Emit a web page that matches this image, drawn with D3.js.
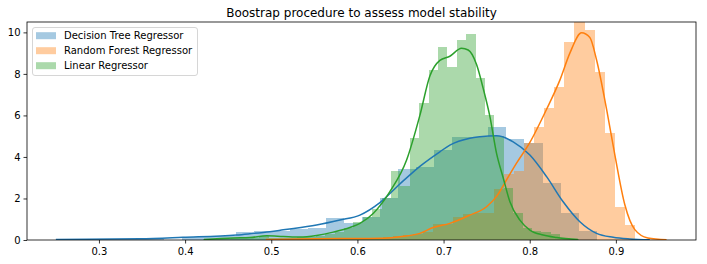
<!DOCTYPE html>
<html>
<head>
<meta charset="utf-8">
<script src="https://cdn.jsdelivr.net/npm/d3@7"></script>
<style>
body { margin: 0; background: #fff; }
text { font-family: "DejaVu Sans", sans-serif; fill: #000; }
</style>
</head>
<body>
<svg id="chart" width="707" height="264"></svg>
<script>
var title = "Boostrap procedure to assess model stability";
var seriesNames = ["Decision Tree Regressor", "Random Forest Regressor", "Linear Regressor"];
var seriesColors = ["#1f77b4", "#ff7f0e", "#2ca02c"];

// histogram bins: first edge, bin width, densities
var binStarts = [0.25, 0.5002, 0.4208];
var binWidths = [0.02092, 0.011724, 0.01091];
var treeHist = [0.05, 0.05, 0.05, 0.05, 0.05, 0.05, 0.02, 0.15, 0.2, 0.2,
    0.37, 0.42, 0.45, 0.54, 0.56, 1.04, 0.8, 1.1, 2.0, 3.42,
    3.53, 4.33, 4.94, 4.94, 5.45, 4.86, 4.65, 2.73, 1.32, 0.43];
var forestHist = [0.03, 0.03, 0.05, 0.05, 0.05, 0.08, 0.08, 0.1, 0.1, 0.12,
    0.1, 0.15, 0.2, 0.25, 0.3, 0.4, 0.77, 0.77, 1.12, 1.24,
    1.3, 1.28, 2.45, 3.2, 3.3, 4.65, 5.45, 6.34, 7.38, 9.55,
    10.8, 10.1, 8.1, 5.14, 1.6, 0.72];
var linearHist = [0.05, 0.05, 0.05, 0.1, 0.1, 0.1, 0.19, 0.1, 0.1, 0.1,
    0.15, 0.15, 0.2, 0.3, 0.4, 0.6, 0.88, 1.12, 1.48, 2.0,
    3.32, 2.61, 4.92, 6.6, 8.17, 9.29, 8.33, 9.62, 9.9, 7.8,
    6.01, 5.0, 2.5, 1.3, 0.6, 0.45, 0.4, 0.3, 0.1, 0.05];

// kde curves
var treeKdeX = [0.25, 0.3476, 0.3975, 0.4598, 0.4752, 0.4984, 0.5139, 0.5526, 0.5797, 0.6029,
    0.6261, 0.6493, 0.6725, 0.6957, 0.7073, 0.7305, 0.7422, 0.7615, 0.7808, 0.8002,
    0.8196, 0.8388, 0.8582, 0.8776, 0.8969, 0.9162, 0.9394];
var treeKdeY = [0.03, 0.06, 0.13, 0.24, 0.3, 0.4, 0.49, 0.72, 0.96, 1.2,
    1.8, 2.7, 3.55, 4.25, 4.57, 4.9, 4.97, 5.02, 4.73, 4.09,
    3.05, 1.84, 0.88, 0.32, 0.13, 0.05, 0.01];
var forestKdeX = [0.4938, 0.5333, 0.5797, 0.6261, 0.6493, 0.6725, 0.6879, 0.7073, 0.7305, 0.7499,
    0.7615, 0.7731, 0.7847, 0.8002, 0.8196, 0.835, 0.8466, 0.8602, 0.8698, 0.8776,
    0.8892, 0.8988, 0.9104, 0.922, 0.9371, 0.9588];
var forestKdeY = [0.03, 0.05, 0.07, 0.08, 0.16, 0.32, 0.6, 0.8, 1.2, 1.6,
    2.1, 2.9, 3.7, 4.7, 6.3, 7.7, 9.0, 9.98, 9.75, 8.67,
    6.3, 4.1, 1.7, 0.5, 0.1, 0.01];
var linearKdeX = [0.4219, 0.4555, 0.4752, 0.4946, 0.5139, 0.5333, 0.5526, 0.5719, 0.5913, 0.6029,
    0.6183, 0.6377, 0.6571, 0.6725, 0.6841, 0.6957, 0.7073, 0.7209, 0.7286, 0.7383,
    0.746, 0.7538, 0.7615, 0.7692, 0.777, 0.7886, 0.8002, 0.8156, 0.8312, 0.8559];
var linearKdeY = [0.02, 0.1, 0.12, 0.2, 0.17, 0.14, 0.22, 0.38, 0.6, 0.8,
    1.28, 2.33, 3.85, 6.0, 7.9, 8.65, 8.85, 9.23, 9.15, 8.45,
    7.3, 5.94, 4.17, 3.0, 1.84, 0.96, 0.48, 0.24, 0.12, 0.02];

var xTicks = [0.3, 0.4, 0.5, 0.6, 0.7, 0.8, 0.9];
var yTicks = [0, 2, 4, 6, 8, 10];

var hists = [treeHist, forestHist, linearHist];
var kdes = [[treeKdeX, treeKdeY], [forestKdeX, forestKdeY], [linearKdeX, linearKdeY]];

var svg = d3.select("#chart"),
    margin = {top: 22, right: 11, bottom: 24, left: 27},
    width = +svg.attr("width") - margin.left - margin.right,
    height = +svg.attr("height") - margin.top - margin.bottom;

var x = d3.scaleLinear().domain([0.2165, 0.993]).range([0, width]),
    y = d3.scaleLinear().domain([0, 10.5]).range([height, 0]);

var g = svg.append("g")
    .attr("transform", "translate(" + margin.left + "," + margin.top + ")");

g.append("clipPath").attr("id", "plotclip")
    .append("rect").attr("width", width).attr("height", height);

var plot = g.append("g").attr("clip-path", "url(#plotclip)");

var line = d3.line()
    .x(function(d) { return x(d[0]); })
    .y(function(d) { return y(d[1]); })
    .curve(d3.curveMonotoneX);

// bars first, lines on top (like matplotlib zorder)
hists.forEach(function(h, s) {
    var bins = h.map(function(v, i) {
        return {x0: binStarts[s] + i * binWidths[s], x1: binStarts[s] + (i + 1) * binWidths[s], v: v};
    });
    plot.append("g").selectAll("rect")
        .data(bins)
        .enter().append("rect")
        .attr("x", function(d) { return x(d.x0); })
        .attr("width", function(d) { return x(d.x1) - x(d.x0); })
        .attr("y", function(d) { return y(d.v); })
        .attr("height", function(d) { return height - y(d.v); })
        .attr("fill", seriesColors[s])
        .attr("fill-opacity", 0.4)
        .attr("shape-rendering", "crispEdges");
});

kdes.forEach(function(k, s) {
    var pts = k[0].map(function(v, i) { return [v, k[1][i]]; });
    plot.append("path")
        .datum(pts)
        .attr("fill", "none")
        .attr("stroke", seriesColors[s])
        .attr("stroke-width", 1.5)
        .attr("d", line);
});

// axes
var xAxis = g.append("g")
    .attr("transform", "translate(0," + height + ")")
    .call(d3.axisBottom(x).tickValues(xTicks).tickFormat(d3.format(".1f")).tickSize(3.5).tickPadding(4.5));
var yAxis = g.append("g")
    .call(d3.axisLeft(y).tickValues(yTicks).tickFormat(d3.format("d")).tickSize(3.5).tickPadding(3));

[xAxis, yAxis].forEach(function(a) {
    a.select(".domain").remove();
    a.selectAll("line").attr("stroke", "#000").attr("stroke-width", 0.8);
    a.selectAll("text").attr("font-size", "10px").attr("fill", "#000")
        .style("font-family", "DejaVu Sans, sans-serif");
});

g.append("rect")
    .attr("width", width).attr("height", height)
    .attr("fill", "none").attr("stroke", "#000").attr("stroke-width", 0.8);

g.append("text")
    .attr("x", width / 2)
    .attr("y", -5.5)
    .attr("text-anchor", "middle")
    .attr("font-size", "12px")
    .text(title);

// legend
var legend = g.append("g").attr("transform", "translate(5.5,5.5)");
legend.append("rect")
    .attr("width", 165).attr("height", 48)
    .attr("rx", 2.5)
    .attr("fill", "#fff").attr("fill-opacity", 0.8)
    .attr("stroke", "#ccc").attr("stroke-width", 0.8);

var items = legend.selectAll(".item")
    .data(seriesNames)
    .enter().append("g")
    .attr("class", "item")
    .attr("transform", function(d, i) { return "translate(0," + (8.2 + i * 15) + ")"; });
items.append("rect")
    .attr("x", 3.5).attr("y", -3.5)
    .attr("width", 20).attr("height", 7)
    .attr("fill", function(d, i) { return seriesColors[i]; })
    .attr("fill-opacity", 0.4);
items.append("text")
    .attr("x", 31.5)
    .attr("dy", "0.36em")
    .attr("font-size", "10px")
    .text(function(d) { return d; });
</script>
</body>
</html>
